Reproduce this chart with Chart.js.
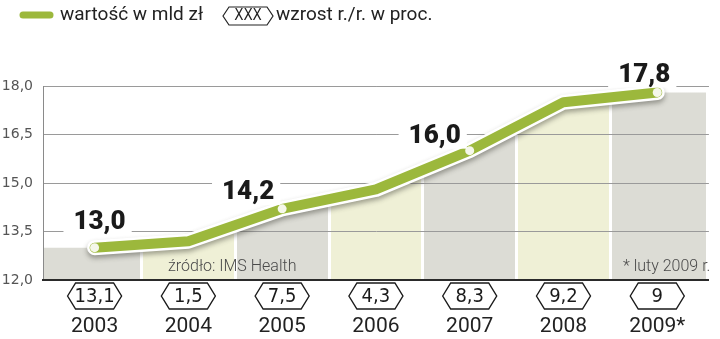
<!DOCTYPE html>
<html lang="pl">
<head>
<meta charset="utf-8">
<script src="https://cdn.jsdelivr.net/npm/chart.js@4/dist/chart.umd.min.js"></script>
<style>
html, body { margin: 0; padding: 0; background: #fff; }
#wrap { width: 720px; height: 339px; position: relative; }
</style>
</head>
<body>
<div id="wrap"><canvas id="chart"></canvas></div>
<script>
"use strict";

// rynek leków - wartość w mld zł i wzrost r./r.
const years = ['2003', '2004', '2005', '2006', '2007', '2008', '2009*'];
const values = [13.0, 13.2, 14.2, 14.8, 16.0, 17.5, 17.8];
const growth = [13.1, 1.5, 7.5, 4.3, 8.3, 9.2, 9];
const labelled = [0, 2, 4, 6];

const yMin = 12, yMax = 18, yStep = 1.5;
const xMin = -0.55, xMax = 6.55;

const green = '#9cb83c';
const colGray = '#dcdcd5';
const colYellow = '#eff0d6';

// label offsets from the point (dx, dy)
const labelOffsets = { 0: [5, -26], 2: [-34, -17], 4: [-35, -15], 6: [-13, -18] };

const fmt = v => String(v).replace('.', ',');
const fmt1 = v => v.toFixed(1).replace('.', ',');

const columnFill = (context) => {
    const chart = context.chart;
    const area = chart.chartArea;
    if (!area) return colGray;
    const xs = chart.scales.x;
    const w = area.right - area.left;
    const gap = 3;
    const g = chart.ctx.createLinearGradient(area.left, 0, area.right, 0);
    const stops = [];
    for (let i = 0; i < years.length; i++) {
        const c = i % 2 ? colYellow : colGray;
        const a = i === 0 ? area.left : xs.getPixelForValue(i - 0.5) + gap / 2;
        const b = i === years.length - 1 ? area.right - gap : xs.getPixelForValue(i + 0.5) - gap / 2;
        stops.push([a, c], [b, c], [b, '#fff']);
        if (i < years.length - 1) stops.push([xs.getPixelForValue(i + 0.5) + gap / 2, '#fff']);
    }
    stops.push([area.right, '#fff']);
    stops.forEach(s => g.addColorStop(Math.min(1, Math.max(0, (s[0] - area.left) / w)), s[1]));
    return g;
};

const hexagon = (ctx, cx, cy, w, h, tip) => {
    ctx.beginPath();
    ctx.moveTo(cx - w / 2, cy);
    ctx.lineTo(cx - w / 2 + tip, cy - h / 2);
    ctx.lineTo(cx + w / 2 - tip, cy - h / 2);
    ctx.lineTo(cx + w / 2, cy);
    ctx.lineTo(cx + w / 2 - tip, cy + h / 2);
    ctx.lineTo(cx - w / 2 + tip, cy + h / 2);
    ctx.closePath();
};

const decor = {
    id: 'decor',
    beforeDatasetDraw(chart, args) {
        if (args.index !== 1) return;
        const ctx = chart.ctx;
        chart.scales.y.drawGrid(chart.chartArea);
        chart.scales.y.drawBorder();
        chart.scales.x.drawBorder();
        ctx.save();
        ctx.shadowColor = 'rgba(60, 60, 50, 0.45)';
        ctx.shadowBlur = 5;
        ctx.shadowOffsetY = 3;
    },
    afterDatasetDraw(chart, args) {
        if (args.index === 1) chart.ctx.restore();
    },
    afterDatasetsDraw(chart) {
        const ctx = chart.ctx;
        const meta = chart.getDatasetMeta(2);
        ctx.save();

        // footnotes
        ctx.font = '300 16px Roboto, sans-serif';
        ctx.fillStyle = '#4a4a4a';
        ctx.textBaseline = 'middle';
        ctx.textAlign = 'left';
        ctx.fillText('źródło: IMS Health', 168, 267);
        ctx.fillText('* luty 2009 r.', 623, 267);

        // value labels
        ctx.font = '900 26px Roboto, sans-serif';
        labelled.forEach(i => {
            const p = meta.data[i];
            const [dx, dy] = labelOffsets[i];
            const txt = fmt1(values[i]);
            const x = p.x + dx, y = p.y + dy;
            const tw = ctx.measureText(txt).width;
            ctx.fillStyle = '#fff';
            ctx.fillRect(x - tw / 2 - 10, y - 14, tw + 16, 27);
            ctx.fillStyle = '#1a1a1a';
            ctx.textAlign = 'center';
            ctx.fillText(txt, x, y + 1);
        });

        // growth badges
        const xs = chart.scales.x;
        ctx.font = '20px "DejaVu Sans Condensed", "DejaVu Sans", sans-serif';
        growth.forEach((g, i) => {
            const cx = xs.getPixelForValue(i);
            hexagon(ctx, cx, 296, 54, 26, 8);
            ctx.fillStyle = '#fff';
            ctx.fill();
            ctx.lineWidth = 1.4;
            ctx.strokeStyle = '#1a1a1a';
            ctx.stroke();
            ctx.fillStyle = '#1a1a1a';
            ctx.textAlign = 'center';
            ctx.fillText(fmt(g), cx, 297);
        });

        // legend
        ctx.lineCap = 'round';
        ctx.lineWidth = 7;
        ctx.strokeStyle = green;
        ctx.beginPath();
        ctx.moveTo(23, 15);
        ctx.lineTo(50, 15);
        ctx.stroke();
        ctx.font = '19px Roboto, sans-serif';
        ctx.fillStyle = '#222';
        ctx.textAlign = 'left';
        ctx.fillText('wartość w mld zł', 60, 15);
        hexagon(ctx, 248, 16, 50, 18, 6);
        ctx.lineWidth = 1.2;
        ctx.strokeStyle = '#222';
        ctx.stroke();
        ctx.font = '15px "DejaVu Sans Condensed", "DejaVu Sans", sans-serif';
        ctx.textAlign = 'center';
        ctx.fillText('XXX', 248, 16);
        ctx.font = '19px Roboto, sans-serif';
        ctx.textAlign = 'left';
        ctx.fillText('wzrost r./r. w proc.', 276, 15);

        ctx.restore();
    }
};

const points = values.map((v, i) => ({ x: i, y: v }));
const areaPoints = [{ x: xMin, y: values[0] }, ...points, { x: xMax, y: values[values.length - 1] }];

new Chart(document.getElementById('chart'), {
    type: 'line',
    data: {
        datasets: [
            {
                data: areaPoints,
                fill: 'start',
                backgroundColor: columnFill,
                borderWidth: 0,
                pointRadius: 0,
                tension: 0,
                order: 3
            },
            {
                data: points,
                borderColor: '#fff',
                borderWidth: 15,
                borderCapStyle: 'round',
                borderJoinStyle: 'round',
                pointRadius: 0,
                tension: 0,
                clip: false,
                order: 2
            },
            {
                data: points,
                borderColor: green,
                borderWidth: 10,
                borderCapStyle: 'round',
                borderJoinStyle: 'round',
                pointRadius: ctx => labelled.includes(ctx.dataIndex) ? 4.5 : 0,
                pointBackgroundColor: '#f5f7ea',
                pointBorderWidth: 0,
                tension: 0,
                clip: false,
                order: 1
            }
        ]
    },
    options: {
        responsive: true,
        maintainAspectRatio: false,
        animation: false,
        events: [],
        layout: { padding: { top: 86, right: 8, left: 0, bottom: 0 } },
        plugins: {
            legend: { display: false },
            tooltip: { enabled: false }
        },
        scales: {
            x: {
                type: 'linear',
                min: xMin,
                max: xMax,
                afterBuildTicks: s => { s.ticks = years.map((_, i) => ({ value: i })); },
                afterFit: s => { s.height = 59; },
                grid: { display: false, drawTicks: false },
                border: { display: true, color: '#2a2a2a', width: 2 },
                ticks: {
                    autoSkip: false,
                    maxRotation: 0,
                    padding: 34,
                    color: '#222',
                    font: { family: 'Roboto, sans-serif', size: 21 },
                    callback: v => years[v] ?? ''
                }
            },
            y: {
                min: yMin,
                max: yMax,
                afterFit: s => { s.width = 43; },
                grid: { color: '#9a9a9a', lineWidth: 1, drawTicks: false },
                border: { display: true, color: '#8a8a8a', width: 1 },
                ticks: {
                    stepSize: yStep,
                    padding: 10,
                    color: '#555',
                    font: { family: '"DejaVu Sans", sans-serif', size: 14 },
                    callback: v => fmt1(v)
                }
            }
        }
    },
    plugins: [decor]
});
</script>
</body>
</html>
